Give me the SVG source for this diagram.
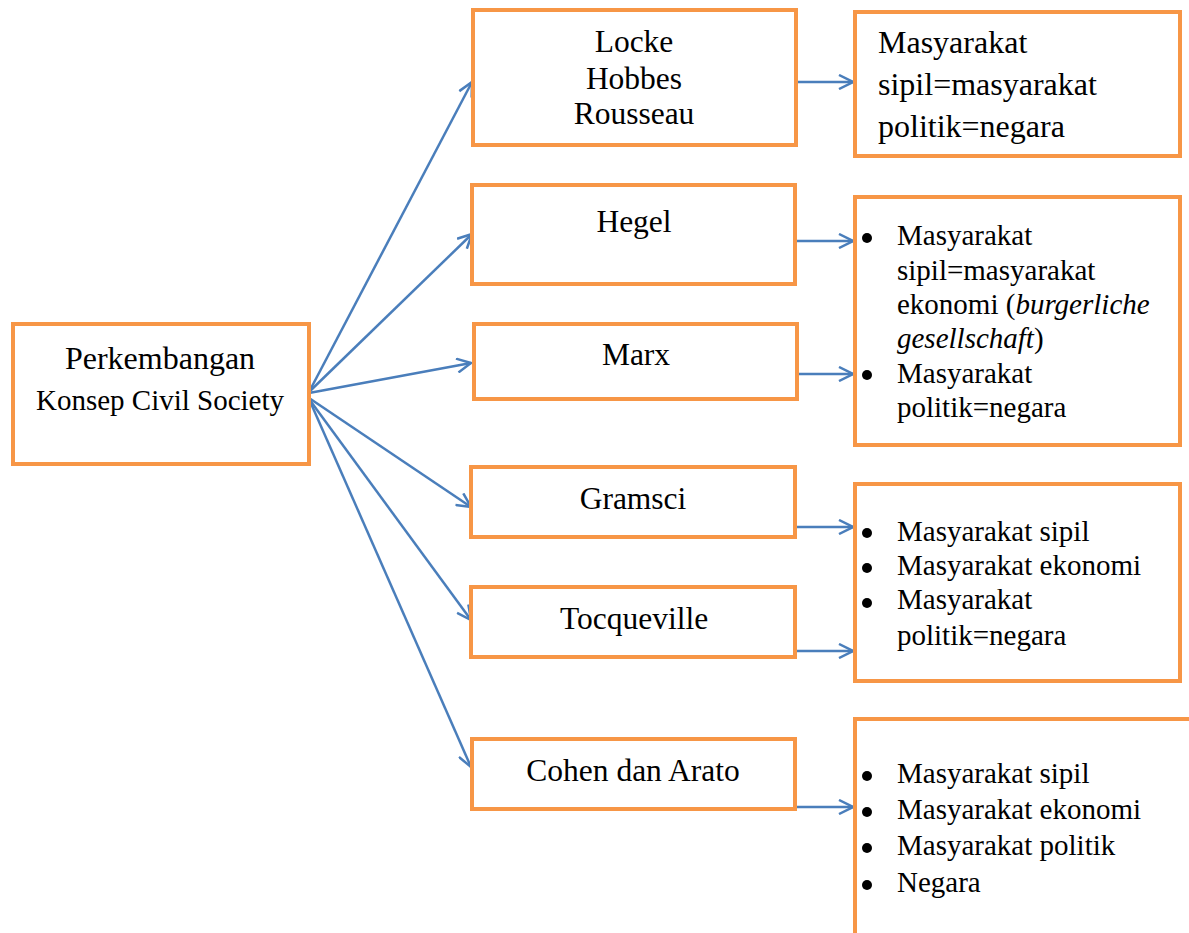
<svg xmlns="http://www.w3.org/2000/svg" width="1189" height="933" viewBox="0 0 1189 933">
<style>
.box{fill:#fff;stroke:#f79646;stroke-width:4}
.t{font-family:"Liberation Serif","Times New Roman","DejaVu Serif",serif;fill:#000}
.c{text-anchor:middle;font-size:31.5px}
.b{font-size:29px}
.big{font-size:32px}
.con{stroke:#4a7ebb;stroke-width:2.5;fill:none;marker-end:url(#arr)}
.dot{fill:#000}
</style>
<defs>
<marker id="arr" viewBox="0 0 16 16" markerWidth="16" markerHeight="16" refX="15" refY="8" orient="auto" markerUnits="userSpaceOnUse">
<path d="M1,1 L15,8 L1,15" fill="none" stroke="#4a7ebb" stroke-width="2.5"/>
</marker>
</defs>
<rect width="1189" height="933" fill="#fff"/>
<g id="connectors">
<line class="con" x1="309" y1="392" x2="472" y2="82"/>
<line class="con" x1="309" y1="392" x2="472" y2="234"/>
<line class="con" x1="309" y1="393" x2="471" y2="363"/>
<line class="con" x1="309" y1="398" x2="471" y2="507"/>
<line class="con" x1="309" y1="399" x2="471" y2="620"/>
<line class="con" x1="309" y1="399" x2="471" y2="767"/>
<line class="con" x1="798" y1="82" x2="853" y2="82"/>
<line class="con" x1="796" y1="241" x2="853" y2="241"/>
<line class="con" x1="798" y1="374" x2="853" y2="374"/>
<line class="con" x1="796" y1="527" x2="853" y2="527"/>
<line class="con" x1="796" y1="651" x2="853" y2="651"/>
<line class="con" x1="796" y1="807" x2="853" y2="807"/>
</g>
<g id="root">
<rect class="box" x="13" y="324" width="296" height="140"/>
<text class="t big" x="160" y="369" text-anchor="middle">Perkembangan</text>
<text class="t b" x="160" y="410" text-anchor="middle">Konsep Civil Society</text>
</g>
<g id="locke">
<rect class="box" x="473" y="10" width="323" height="135"/>
<text class="t c" x="634" y="52">Locke</text>
<text class="t c" x="634" y="89">Hobbes</text>
<text class="t c" x="634" y="124">Rousseau</text>
</g>
<g id="hegel">
<rect class="box" x="472" y="185" width="323" height="99"/>
<text class="t c" x="634" y="232">Hegel</text>
</g>
<g id="marx">
<rect class="box" x="474" y="324" width="323" height="75"/>
<text class="t c" x="636" y="365">Marx</text>
</g>
<g id="gramsci">
<rect class="box" x="471" y="467" width="324" height="70"/>
<text class="t c" x="633" y="509">Gramsci</text>
</g>
<g id="tocqueville">
<rect class="box" x="471" y="587" width="324" height="70"/>
<text class="t c" x="634" y="629">Tocqueville</text>
</g>
<g id="cohen">
<rect class="box" x="472" y="739" width="323" height="70"/>
<text class="t c" x="633" y="781">Cohen dan Arato</text>
</g>
<g id="result1">
<rect class="box" x="855" y="12" width="325" height="144"/>
<text class="t big" x="878" y="53">Masyarakat</text>
<text class="t big" x="878" y="95">sipil=masyarakat</text>
<text class="t big" x="878" y="137">politik=negara</text>
</g>
<g id="result2">
<rect class="box" x="855" y="197" width="325" height="248"/>
<circle class="dot" cx="867" cy="238" r="5"/>
<circle class="dot" cx="867" cy="375" r="5"/>
<text class="t b" x="897" y="245">Masyarakat</text>
<text class="t b" x="897" y="280">sipil=masyarakat</text>
<text class="t b" x="897" y="314">ekonomi (<tspan font-style="italic">burgerliche</tspan></text>
<text class="t b" x="897" y="348"><tspan font-style="italic">gesellschaft</tspan>)</text>
<text class="t b" x="897" y="383">Masyarakat</text>
<text class="t b" x="897" y="417">politik=negara</text>
</g>
<g id="result3">
<rect class="box" x="855" y="484" width="325" height="197"/>
<circle class="dot" cx="867" cy="533" r="5"/>
<circle class="dot" cx="867" cy="568" r="5"/>
<circle class="dot" cx="867" cy="603" r="5"/>
<text class="t b" x="897" y="541">Masyarakat sipil</text>
<text class="t b" x="897" y="575">Masyarakat ekonomi</text>
<text class="t b" x="897" y="609">Masyarakat</text>
<text class="t b" x="897" y="645">politik=negara</text>
</g>
<g id="result4">
<rect class="box" x="855" y="719" width="360" height="260"/>
<circle class="dot" cx="867" cy="776" r="5"/>
<circle class="dot" cx="867" cy="812" r="5"/>
<circle class="dot" cx="867" cy="848" r="5"/>
<circle class="dot" cx="867" cy="885" r="5"/>
<text class="t b" x="897" y="783">Masyarakat sipil</text>
<text class="t b" x="897" y="819">Masyarakat ekonomi</text>
<text class="t b" x="897" y="855">Masyarakat politik</text>
<text class="t b" x="897" y="892">Negara</text>
</g>
</svg>
